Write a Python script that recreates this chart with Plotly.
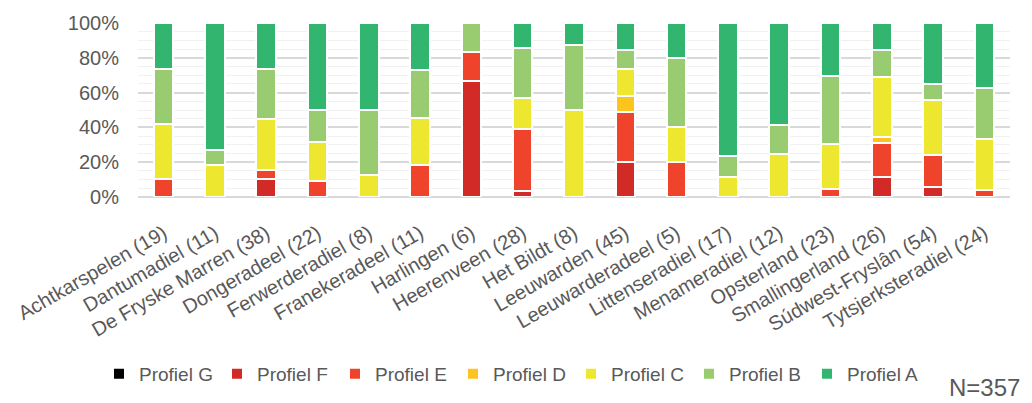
import plotly.graph_objects as go

categories = ["Achtkarspelen (19)", "Dantumadiel (11)", "De Fryske Marren (38)", "Dongeradeel (22)",
              "Ferwerderadiel (8)", "Franekeradeel (11)", "Harlingen (6)", "Heerenveen (28)",
              "Het Bildt (8)", "Leeuwarden (45)", "Leeuwarderadeel (5)", "Littenseradiel (17)",
              "Menameradiel (12)", "Opsterland (23)", "Smallingerland (26)", "Súdwest-Fryslân (54)",
              "Tytsjerksteradiel (24)"]

# counts per profile
profiel_g = [0, 0, 0, 0, 0, 0, 0, 0, 0, 0, 0, 0, 0, 0, 0, 0, 0]
profiel_f = [0, 0, 4, 0, 0, 0, 4, 1, 0, 9, 0, 0, 0, 0, 3, 3, 0]
profiel_e = [2, 0, 2, 2, 0, 2, 1, 10, 0, 13, 1, 0, 0, 1, 5, 10, 1]
profiel_d = [0, 0, 0, 0, 0, 0, 0, 0, 0, 4, 0, 0, 0, 0, 1, 0, 0]
profiel_c = [6, 2, 11, 5, 1, 3, 0, 5, 4, 7, 1, 2, 3, 6, 9, 17, 7]
profiel_b = [6, 1, 11, 4, 3, 3, 1, 8, 3, 5, 2, 2, 2, 9, 4, 5, 7]
profiel_a = [5, 8, 10, 11, 4, 3, 0, 4, 1, 7, 1, 13, 7, 7, 4, 19, 9]

series = [
    ("Profiel G", profiel_g, "#000000"),
    ("Profiel F", profiel_f, "#D22A26"),
    ("Profiel E", profiel_e, "#F0432B"),
    ("Profiel D", profiel_d, "#FDC41F"),
    ("Profiel C", profiel_c, "#EDE82F"),
    ("Profiel B", profiel_b, "#99CC71"),
    ("Profiel A", profiel_a, "#32B56F"),
]

totals = [sum(s[1][i] for s in series) for i in range(len(categories))]

fig = go.Figure()
for name, vals, color in series:
    fig.add_trace(go.Bar(
        name=name, x=categories, y=[v / t for v, t in zip(vals, totals)],
        marker=dict(color=color, line=dict(color="white", width=2)),
    ))

fig.update_layout(
    width=1032, height=403,
    barmode="stack", bargap=0.62,
    plot_bgcolor="white", paper_bgcolor="white",
    font=dict(family="Liberation Sans, Arial, sans-serif", color="#595959", size=20),
    margin=dict(l=130, r=30, t=15, b=214),
    showlegend=True,
    legend=dict(orientation="h", xref="container", yref="container",
                x=91 / 1032, xanchor="left", y=0.092, yanchor="middle",
                font=dict(size=19, color="#595959"), traceorder="normal",
                entrywidth=73, entrywidthmode="pixels"),
    annotations=[dict(text="N=357", x=1.0135, xref="paper", y=-1.095, yref="paper",
                      xanchor="right", yanchor="middle", showarrow=False,
                      font=dict(size=24, color="#595959"))],
)
fig.update_xaxes(tickangle=-30, showline=False, ticks="", automargin=False,
                 ticklabelstandoff=20, tickfont=dict(size=20, color="#595959"))
fig.update_yaxes(range=[0, 1], dtick=0.2, tickformat=".0%", showgrid=True,
                 gridcolor="#D9D9D9", gridwidth=1.5, zeroline=True, zerolinecolor="#D9D9D9",
                 zerolinewidth=1.5, automargin=False, ticklabelstandoff=18,
                 minor=dict(dtick=0.05, showgrid=True, gridcolor="#F0F0F0", gridwidth=1),
                 tickfont=dict(size=20, color="#595959"))

fig.write_html("out.html")
